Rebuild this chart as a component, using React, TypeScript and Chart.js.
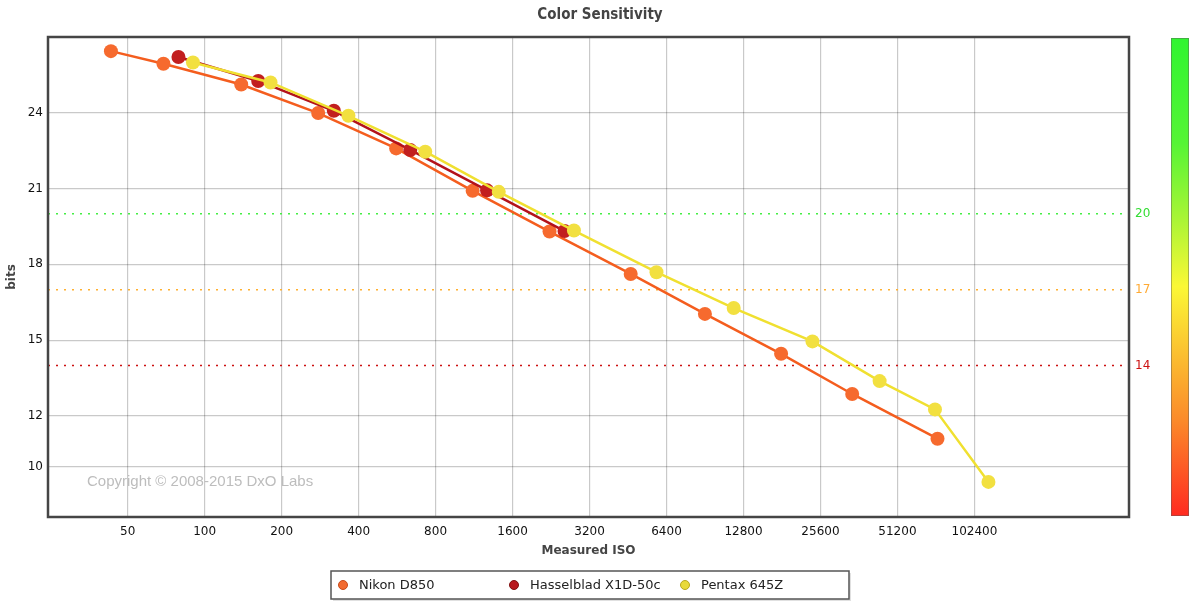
import React, { useEffect, useRef } from "react";
import { Chart, registerables } from "chart.js";

Chart.register(...registerables);

// ---------- data ----------
const isoTicks = [50, 100, 200, 400, 800, 1600, 3200, 6400, 12800, 25600, 51200, 102400];
const bitTicks = [10, 12, 15, 18, 21, 24];
const isoMin = 24.4;
const isoMax = 412000;
const bitsMin = 8;
const bitsMax = 27;

const nikonLabel = "Nikon D850";
const nikonIso = [43, 69, 139, 278, 561, 1117, 2232, 4637, 9045, 17960, 34070, 73460];
const nikonBits = [26.44, 25.94, 25.12, 23.99, 22.59, 20.91, 19.3, 17.62, 16.04, 14.46, 12.87, 11.1];

const hasselLabel = "Hasselblad X1D-50c";
const hasselIso = [79, 162, 320, 637, 1272, 2555];
const hasselBits = [26.21, 25.26, 24.08, 22.53, 20.93, 19.32];

const pentaxLabel = "Pentax 645Z";
const pentaxIso = [90, 181, 365, 729, 1413, 2781, 5847, 11720, 23820, 43620, 71800, 116200];
const pentaxBits = [25.99, 25.2, 23.88, 22.46, 20.87, 19.34, 17.69, 16.27, 14.95, 13.38, 12.26, 9.39];

const thresholdBits = [20, 17, 14];

const titleText = "Color Sensitivity";
const xTitle = "Measured ISO";
const yTitle = "bits";
const copyrightText = "Copyright \u00A9 2008-2015 DxO Labs";

// ---------- styles ----------
const thresholdLineColors = ["#44ee44", "#ffb030", "#cc1111"];
const thresholdTextColors = ["#33dd33", "#ffaa33", "#cc1111"];
const seriesStyle = [
  { line: "#f45d1e", point: "#f66a2e", legend: "#f26a30", legendEdge: "#c84a1a" },
  { line: "#b3121a", point: "#c21f1f", legend: "#b8181e", legendEdge: "#801010" },
  { line: "#f0e030", point: "#f2e040", legend: "#e8da3a", legendEdge: "#b8a820" },
];
const FONT = '"DejaVu Sans", Verdana, sans-serif';

function toPoints(xs: number[], ys: number[]) {
  return xs.map((x, i) => ({ x, y: ys[i] }));
}

const decorPlugin = {
  id: "decor",
  beforeDatasetsDraw(chart: any) {
    const { ctx, chartArea: a } = chart;
    ctx.save();
    ctx.font = '15px "Liberation Sans", Arial, sans-serif';
    ctx.fillStyle = "#bdbdbd";
    ctx.textBaseline = "middle";
    ctx.textAlign = "left";
    ctx.fillText(copyrightText, a.left + 39, a.bottom - 35);
    ctx.restore();
  },
  afterDatasetsDraw(chart: any) {
    const { ctx, chartArea: a } = chart;
    ctx.save();
    ctx.strokeStyle = "#454545";
    ctx.lineWidth = 2.5;
    ctx.strokeRect(a.left, a.top, a.right - a.left, a.bottom - a.top);
    ctx.restore();
  },
  afterDraw(chart: any) {
    const { ctx, chartArea: a } = chart;
    ctx.save();
    // colour bar
    const bx = a.right + 42;
    const bw = 18;
    const by = a.top + 1;
    const bh = a.bottom - a.top - 2;
    const g = ctx.createLinearGradient(0, by, 0, by + bh);
    g.addColorStop(0, "#30f530");
    g.addColorStop(0.22, "#55f535");
    g.addColorStop(0.38, "#aaf535");
    g.addColorStop(0.52, "#fbf835");
    g.addColorStop(0.66, "#fbc030");
    g.addColorStop(0.8, "#fb8a2a");
    g.addColorStop(1, "#ff2a20");
    ctx.fillStyle = g;
    ctx.fillRect(bx, by, bw, bh);
    ctx.strokeStyle = "rgba(90,90,90,0.45)";
    ctx.lineWidth = 1;
    ctx.strokeRect(bx + 0.5, by + 0.5, bw - 1, bh - 1);

    // legend
    const lw = 518;
    const lh = 28;
    const lx = Math.round((a.left + a.right) / 2 - lw / 2 + 1.5);
    const ly = chart.height - 34;
    ctx.fillStyle = "rgba(0,0,0,0.12)";
    ctx.fillRect(lx + 2, ly + 2, lw, lh);
    ctx.fillStyle = "#ffffff";
    ctx.fillRect(lx, ly, lw, lh);
    ctx.strokeStyle = "#555555";
    ctx.lineWidth = 1.5;
    ctx.strokeRect(lx, ly, lw, lh);
    const series = chart.data.datasets.filter((d: any) => !d.isThreshold);
    ctx.font = "13px " + FONT;
    ctx.textBaseline = "middle";
    ctx.textAlign = "left";
    series.forEach((d: any, i: number) => {
      const mx = lx + 12 + i * 171;
      const my = ly + lh / 2;
      const st = seriesStyle[i];
      ctx.beginPath();
      ctx.arc(mx, my, 4.5, 0, Math.PI * 2);
      ctx.fillStyle = st.legend;
      ctx.fill();
      ctx.strokeStyle = st.legendEdge;
      ctx.lineWidth = 1;
      ctx.stroke();
      ctx.fillStyle = "#222222";
      ctx.fillText(d.label, mx + 16, my + 0.5);
    });
    ctx.restore();
  },
};

export default function App() {
  const ref = useRef<HTMLCanvasElement | null>(null);

  useEffect(() => {
    if (!ref.current) return;
    const seriesSets = [
      { label: nikonLabel, data: toPoints(nikonIso, nikonBits), order: 3 },
      { label: hasselLabel, data: toPoints(hasselIso, hasselBits), order: 2 },
      { label: pentaxLabel, data: toPoints(pentaxIso, pentaxBits), order: 1 },
    ].map((s, i) => ({
      ...s,
      showLine: true,
      borderColor: seriesStyle[i].line,
      backgroundColor: seriesStyle[i].point,
      pointBackgroundColor: seriesStyle[i].point,
      pointBorderColor: seriesStyle[i].point,
      pointBorderWidth: 0,
      pointRadius: 7,
      borderWidth: 2.5,
    }));
    const thresholdSets = thresholdBits.map((b, i) => ({
      label: "t" + b,
      isThreshold: true,
      data: [
        { x: isoMin, y: b },
        { x: isoMax, y: b },
      ],
      showLine: true,
      borderColor: thresholdLineColors[i],
      borderWidth: 1.5,
      borderDash: [2, 6],
      pointRadius: 0,
      order: 10,
    }));

    const chart = new Chart(ref.current, {
      type: "scatter",
      data: { datasets: [...seriesSets, ...thresholdSets] as any },
      plugins: [decorPlugin],
      options: {
        animation: false,
        responsive: false,
        events: [],
        layout: { padding: { left: 0, right: 0, top: 0, bottom: 42 } },
        plugins: {
          legend: { display: false },
          tooltip: { enabled: false },
          title: {
            display: true,
            text: titleText,
            color: "#444444",
            font: { family: '"DejaVu Sans Condensed", "Liberation Sans Narrow", "Liberation Sans", sans-serif', size: 15, weight: "bold" },
            padding: { top: 6, bottom: 13 },
          },
        },
        scales: {
          x: {
            type: "logarithmic",
            min: isoMin,
            max: isoMax,
            afterBuildTicks: (s: any) => {
              s.ticks = isoTicks.map((v) => ({ value: v }));
            },
            afterFit: (s: any) => {
              s.height = 46;
            },
            ticks: {
              callback: (v: any) => String(v),
              color: "#111111",
              font: { family: FONT, size: 12 },
              padding: 8,
              autoSkip: false,
              maxRotation: 0,
            },
            grid: { color: "rgba(0,0,0,0.21)", lineWidth: 1.2, drawTicks: false },
            border: { display: false },
            title: {
              display: true,
              text: xTitle,
              color: "#444444",
              font: { family: FONT, size: 12, weight: "bold" },
              padding: { top: 0, bottom: 5 },
            },
          },
          y: {
            type: "linear",
            position: "left",
            min: bitsMin,
            max: bitsMax,
            afterBuildTicks: (s: any) => {
              s.ticks = bitTicks.map((v) => ({ value: v }));
            },
            afterFit: (s: any) => {
              s.width = 48;
            },
            ticks: {
              color: "#111111",
              font: { family: FONT, size: 12 },
              padding: 5,
            },
            grid: { color: "rgba(0,0,0,0.21)", lineWidth: 1.2, drawTicks: false },
            border: { display: false },
            title: {
              display: true,
              text: yTitle,
              color: "#444444",
              font: { family: FONT, size: 12, weight: "bold" },
              padding: { top: 4.5, bottom: 0 },
            },
          },
          y2: {
            type: "linear",
            position: "right",
            min: bitsMin,
            max: bitsMax,
            afterBuildTicks: (s: any) => {
              s.ticks = thresholdBits.map((v) => ({ value: v }));
            },
            afterFit: (s: any) => {
              s.width = 71;
            },
            ticks: {
              color: (c: any) => {
                const idx = thresholdBits.indexOf(c.tick ? c.tick.value : -1);
                return idx >= 0 ? thresholdTextColors[idx] : "#000";
              },
              font: { family: FONT, size: 12 },
              padding: 6,
            },
            grid: { display: false, drawTicks: false },
            border: { display: false },
          },
        },
      } as any,
    });
    return () => chart.destroy();
  }, []);

  return (
    <div style={{ position: "absolute", left: 0, top: 0, width: 1200, height: 605, background: "#fff" }}>
      <canvas ref={ref} width={1200} height={605} style={{ width: 1200, height: 605, display: "block" }} />
    </div>
  );
}
